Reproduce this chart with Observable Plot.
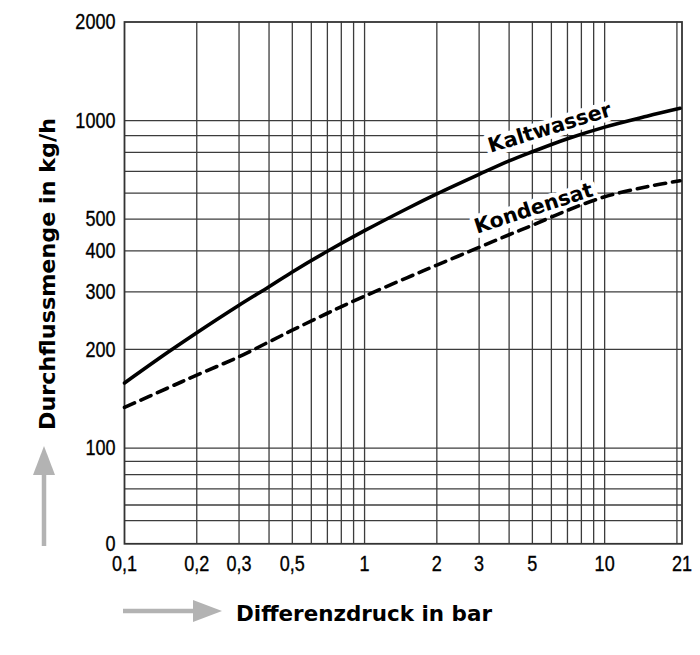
<!DOCTYPE html>
<html>
<head>
<meta charset="utf-8">
<script src="https://cdn.jsdelivr.net/npm/d3@7"></script>
<script src="https://cdn.jsdelivr.net/npm/@observablehq/plot@0.6"></script>
<style>
  html, body { margin: 0; padding: 0; background: #fff; }
  #chart { width: 700px; height: 655px; }
</style>
</head>
<body>
<div id="chart"></div>
<script>
// X axis: pressure difference (bar), log scale
const xTicks = [0.1, 0.2, 0.3, 0.5, 1, 2, 3, 5, 7, 10, 21];
const xTickLabels = ["0,1", "0,2", "0,3", "0,5", "1", "2", "3", "5", "7", "10", "21"];
const xGrid = [0.2, 0.3, 0.4, 0.5, 0.6, 0.7, 0.8, 0.9, 1, 2, 3, 4, 5, 6, 7, 8, 9, 10, 20];

// Y axis: flow (kg/h), log scale; bottom of the scale is labelled "0"
const yMin = 51;
const yMax = 2000;
const yTicks = [51, 100, 200, 300, 400, 500, 800, 1000, 2000];
const yTickLabels = ["0", "100", "200", "300", "400", "500", "800", "1000", "2000"];
const yGrid = [60, 67, 75, 83, 91, 100, 200, 300, 400, 500, 600, 700, 800, 900, 1000];

// Curves
const druck      = [0.1, 0.15, 0.2, 0.3, 0.4, 0.5, 0.7, 1, 1.5, 2, 3, 4, 5, 7, 10, 15, 20.6];
const kaltwasser = [158, 195, 225, 273, 311, 345, 399, 461, 538, 597, 685, 753, 803, 880, 955, 1031, 1090];
const kondensat  = [133, 152, 167, 190, 211, 229, 258, 291, 331, 362, 410, 448, 479, 532, 585, 628, 655];

// Curve labels (data coordinates)
const curveNames  = ["Kaltwasser", "Kondensat"];
const labelX      = [5.9, 5.06];
const labelY      = [950, 539];
const labelAngle  = [-17, -18];

const xTitle = "Differenzdruck in bar";
const yTitle = "Durchflussmenge in kg/h";

const rowsK = druck.map((d, i) => ({x: d, y: kaltwasser[i]}));
const rowsC = druck.map((d, i) => ({x: d, y: kondensat[i]}));
const labels = curveNames.map((n, i) => ({name: n, x: labelX[i], y: labelY[i], angle: labelAngle[i]}));

const tickFont = "'Liberation Sans', Arial, sans-serif";
const boldFont = "'DejaVu Sans', sans-serif";
const tickSize = 22;

const chart = Plot.plot({
  width: 700,
  height: 655,
  marginLeft: 124,
  marginRight: 18.5,
  marginTop: 21.5,
  marginBottom: 111.7,
  x: {type: "log", domain: [0.1, 21]},
  y: {type: "log", domain: [yMin, yMax]},
  style: {background: "#fff", color: "#000"},
  marks: [
    Plot.ruleX(xGrid, {stroke: "#3c3c3c", strokeWidth: 1.3}),
    Plot.ruleY(yGrid, {stroke: "#3c3c3c", strokeWidth: 1.3}),
    Plot.frame({stroke: "#333", strokeWidth: 1.8}),
    Plot.text(labels, {
      x: "x", y: "y", text: "name", rotate: "angle",
      fontSize: 20.5, fontWeight: "bold", fontFamily: boldFont,
      fill: "#000", stroke: "#fff", strokeWidth: 9, textAnchor: "middle"
    }),
    Plot.line(rowsK, {x: "x", y: "y", stroke: "#000", strokeWidth: 3.6, curve: "catmull-rom"}),
    Plot.line(rowsC, {x: "x", y: "y", stroke: "#000", strokeWidth: 3.6, strokeDasharray: "11,7", curve: "catmull-rom"}),
    Plot.axisX({
      ticks: xTicks, tickFormat: d => xTickLabels[xTicks.indexOf(d)],
      tickSize: 0, tickPadding: 12, label: null
    }),
    Plot.axisY({
      ticks: yTicks, tickFormat: d => yTickLabels[yTicks.indexOf(d)],
      tickSize: 0, tickPadding: 9, label: null
    })
  ]
});

document.getElementById("chart").appendChild(chart);

const svg = d3.select(chart);

// Narrow tick-label look: Liberation Sans squeezed to narrow widths
const narrowWidth = s => Array.from(s).reduce((w, c) => w + (c === "," ? 0.228 : 0.456) * tickSize, 0);
svg.selectAll("g[aria-label='x-axis tick label'] text, g[aria-label='y-axis tick label'] text")
  .style("font-family", tickFont)
  .style("font-size", tickSize + "px")
  .style("fill", "#000")
  .style("stroke", "#000")
  .style("stroke-width", "0.35px")
  .each(function() {
    const t = this.textContent;
    d3.select(this).attr("textLength", narrowWidth(t)).attr("lengthAdjust", "spacingAndGlyphs");
  });

// Axis titles and grey arrows
const grey = "#b3b3b3";

// x arrow
svg.append("line").attr("x1", 123).attr("y1", 611).attr("x2", 196).attr("y2", 611)
  .attr("stroke", grey).attr("stroke-width", 4.5);
svg.append("polygon").attr("points", "193,600 193,622 222,611").attr("fill", grey);

svg.append("text")
  .attr("x", 236).attr("y", 621)
  .attr("text-anchor", "start")
  .style("font-family", boldFont).style("font-weight", "bold").style("font-size", "21px")
  .attr("textLength", 256).attr("lengthAdjust", "spacingAndGlyphs")
  .attr("fill", "#000")
  .text(xTitle);

// y arrow
svg.append("line").attr("x1", 44).attr("y1", 546).attr("x2", 44).attr("y2", 472)
  .attr("stroke", grey).attr("stroke-width", 4.5);
svg.append("polygon").attr("points", "33,475 55,475 44,446").attr("fill", grey);

svg.append("text")
  .attr("transform", "translate(55,274) rotate(-90)")
  .attr("text-anchor", "middle")
  .style("font-family", boldFont).style("font-weight", "bold").style("font-size", "21px")
  .attr("textLength", 312).attr("lengthAdjust", "spacingAndGlyphs")
  .attr("fill", "#000")
  .text(yTitle);
</script>
</body>
</html>
